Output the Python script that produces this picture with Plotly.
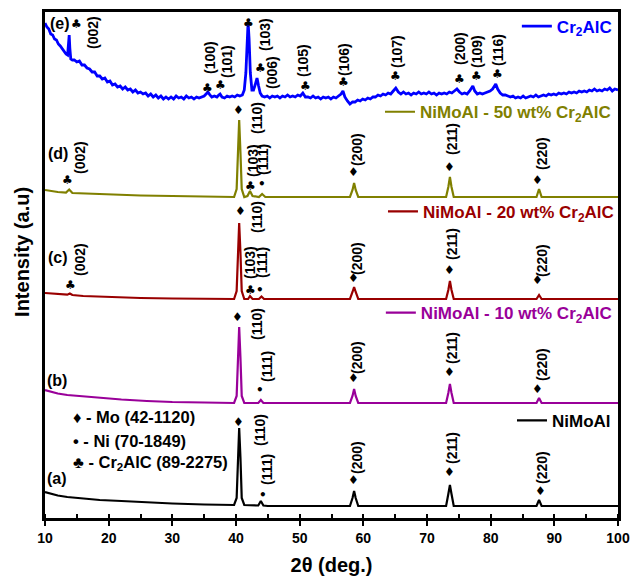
import plotly.graph_objects as go

# ---------------- data (2theta in degrees, stacked intensity in a.u.) ----------------
a_x = [10, 11, 12, 13.5, 16, 18.6, 22, 26, 30, 35, 39.7, 40.1, 40.3, 40.5, 40.7, 40.9, 41.3, 42.5, 43.5, 43.9, 44.3, 45,
       50, 57.9, 58.3, 58.55, 58.8, 59.2, 65, 73.0, 73.35, 73.6, 73.85, 74.2, 80, 87.2, 87.6, 88.0, 95, 100]
a_y = [26, 24, 22.5, 21, 19.5, 18, 17, 15.5, 14.5, 13.5, 13, 20, 60, 90, 60, 20, 13, 12.5, 12.5, 17, 12.5, 12,
       12, 12, 20, 27, 20, 12, 12, 12, 24, 33, 24, 12, 12, 12, 18, 12, 12, 12]

b_x = [10, 11, 12, 13.5, 16, 18.6, 22, 26, 30, 35, 39.7, 40.1, 40.3, 40.5, 40.7, 40.9, 41.3, 43.5, 43.9, 44.3,
       50, 57.9, 58.3, 58.55, 58.8, 59.2, 65, 73.0, 73.35, 73.6, 73.85, 74.2, 80, 87.2, 87.6, 88.0, 100]
b_y = [128, 126, 124.5, 123, 121.5, 120, 118.5, 117, 116, 115.5, 115, 122, 160, 191, 160, 122, 115, 115, 118, 115,
       115, 115, 122, 129, 122, 115, 115, 115, 125, 134, 125, 115, 115, 115, 120, 115, 115]

c_x = [10, 11, 12, 13.5, 13.9, 14.3, 16, 20, 25, 30, 35, 39.7, 40.1, 40.3, 40.5, 40.7, 40.9, 41.3, 41.9, 42.2, 42.6,
       43.6, 44.0, 44.4, 50, 57.9, 58.3, 58.55, 58.8, 59.2, 65, 73.0, 73.35, 73.6, 73.85, 74.2, 80, 87.2, 87.6, 88.0, 100]
c_y = [225, 224.5, 224, 223.3, 224.5, 223, 222, 221, 220, 219.5, 219, 219, 227, 265, 295, 265, 227, 219, 219, 222, 219,
       219, 221.5, 219, 219, 219, 226, 231, 226, 219, 219, 219, 228, 237, 228, 219, 219, 219, 223, 219, 219]

d_x = [10, 11, 12, 13.3, 13.8, 14.3, 16, 20, 25, 30, 35, 39.7, 40.1, 40.3, 40.5, 40.7, 40.9, 41.3, 41.8, 42.2, 42.6,
       43.6, 44.1, 44.6, 50, 57.9, 58.3, 58.55, 58.8, 59.2, 65, 73.0, 73.35, 73.6, 73.85, 74.2, 80, 87.2, 87.6, 88.0, 100]
d_y = [328, 327, 326, 325.5, 328.5, 325, 324.5, 323.5, 322.5, 322, 321.5, 321, 329, 365, 398, 365, 329, 321, 322, 327, 322,
       321, 324, 321, 321, 321, 328, 335, 328, 321, 321, 321, 331, 341, 331, 321, 321, 321, 329, 321, 321]

e_x = [10.0, 10.3, 10.6, 10.9, 11.2, 11.5, 11.8, 12.1, 12.4, 12.7, 13.0, 13.3, 13.55, 13.7, 13.8, 13.9, 14.05, 14.3, 14.6,
       15.0, 15.4, 15.8, 16.2, 16.6, 17.0, 17.4, 17.8, 18.2, 18.6, 19.0, 19.4, 19.8, 20.2, 20.6, 21.0, 21.4, 21.8, 22.2,
       22.6, 23.0, 23.4, 23.8, 24.2, 24.6, 25.0, 25.4, 25.8, 26.2, 26.6, 27.0, 27.4, 27.8, 28.2, 28.6, 29.0, 29.4, 29.8,
       30.2, 30.6, 31.0, 31.4, 31.8, 32.2, 32.6, 33.0, 33.4, 33.8, 34.2, 34.6, 35.0, 35.3, 35.6, 35.9, 36.2, 36.6, 37.0,
       37.3, 37.5, 37.8, 38.2, 38.6, 39.0, 39.4, 39.8, 40.2, 40.6, 41.0, 41.3, 41.55, 41.75, 41.9, 42.05, 42.25, 42.5,
       42.75, 43.0, 43.3, 43.55, 43.8, 44.1, 44.5, 44.9, 45.3, 45.7, 46.1, 46.5, 46.9, 47.3, 47.7, 48.1, 48.5, 48.9, 49.3,
       49.7, 50.1, 50.5, 50.9, 51.3, 51.7, 52.1, 52.5, 52.9, 53.3, 53.7, 54.1, 54.5, 54.9, 55.3, 55.7, 56.1, 56.5, 56.8,
       57.1, 57.5, 57.9, 58.3, 58.7, 59.1, 59.5, 59.9, 60.3, 60.7, 61.1, 61.5, 61.9, 62.3, 62.7, 63.1, 63.5, 63.9, 64.3,
       64.7, 65.1, 65.5, 65.9, 66.3, 66.7, 67.1, 67.5, 67.9, 68.3, 68.7, 69.1, 69.5, 69.9, 70.3, 70.7, 71.1, 71.5, 71.9,
       72.3, 72.7, 73.1, 73.5, 73.9, 74.3, 74.7, 75.1, 75.5, 75.9, 76.3, 76.7, 77.0, 77.2, 77.5, 77.9, 78.3, 78.7, 79.1,
       79.5, 79.9, 80.3, 80.6, 80.8, 81.1, 81.5, 81.9, 82.3, 82.7, 83.1, 83.5, 83.9, 84.3, 84.7, 85.1, 85.5, 85.9, 86.3,
       86.7, 87.1, 87.5, 87.9, 88.3, 88.7, 89.1, 89.5, 89.9, 90.3, 90.7, 91.1, 91.5, 91.9, 92.3, 92.7, 93.1, 93.5, 93.9,
       94.3, 94.7, 95.1, 95.5, 95.9, 96.3, 96.7, 97.1, 97.5, 97.9, 98.3, 98.7, 99.1, 99.5, 100.0]
e_y = [495, 491, 489, 484, 483, 479, 478, 474, 472, 469, 467, 464, 463, 475, 483, 470, 459, 458, 458,
       456, 457, 453, 453, 450, 449, 446, 446, 442, 442, 439, 440, 436, 437, 433, 434, 431, 432, 429,
       431, 428, 429, 426, 428, 425, 426, 424, 425, 422, 424, 421, 423, 420, 422, 419, 421, 419, 421,
       419, 422, 420, 421, 419, 422, 420, 421, 419, 421, 420, 421, 422, 424, 426, 423, 421, 422, 421,
       423, 424, 421, 420, 422, 421, 422, 421, 423, 422, 423, 428, 445, 480, 496, 480, 445, 428,
       428, 433, 440, 432, 425, 422, 421, 422, 420, 422, 421, 422, 420, 422, 421, 423, 421, 422, 421,
       423, 422, 425, 421, 421, 420, 422, 420, 421, 419, 421, 420, 421, 419, 421, 420, 422, 424, 427,
       421, 417, 414, 416, 416, 418, 417, 419, 418, 420, 419, 421, 421, 423, 422, 424, 423, 425, 424,
       427, 430, 426, 424, 426, 424, 425, 423, 425, 424, 426, 424, 425, 424, 426, 424, 425, 423, 425,
       424, 425, 424, 426, 425, 427, 429, 426, 424, 425, 424, 427, 430, 432, 427, 424, 425, 424, 425,
       426, 427, 429, 432, 434, 429, 425, 423, 423, 422, 421, 422, 420, 421, 420, 422, 420, 421, 422,
       421, 423, 421, 422, 423, 422, 424, 423, 424, 423, 425, 424, 425, 424, 426, 425, 426, 425, 427,
       426, 427, 426, 428, 427, 429, 427, 428, 427, 429, 428, 430, 427, 429, 428]

series_names = ["NiMoAl", "NiMoAl - 10 wt% Cr<sub>2</sub>AlC", "NiMoAl - 20 wt% Cr<sub>2</sub>AlC",
                "NiMoAl - 50 wt% Cr<sub>2</sub>AlC", "Cr<sub>2</sub>AlC"]
series_tags = ["(a)", "(b)", "(c)", "(d)", "(e)"]
series_x = [a_x, b_x, c_x, d_x, e_x]
series_y = [a_y, b_y, c_y, d_y, e_y]

# Miller index labels (text, 2theta, intensity)
peak_labels = [
    ("(002)", 17.54, 485), ("(100)", 35.92, 460), ("(101)", 38.59, 456), ("(103)", 44.55, 484),
    ("(006)", 45.65, 446), ("(105)", 50.52, 458), ("(106)", 56.96, 459), ("(107)", 65.29, 466),
    ("(200)", 75.18, 470), ("(109)", 77.85, 467), ("(116)", 81.15, 468),
    ("(002)", 15.50, 360), ("(110)", 43.30, 400), ("(103)", 42.67, 357), ("(111)", 44.24, 359),
    ("(200)", 59.0, 369), ("(211)", 73.93, 379), ("(220)", 88.06, 365),
    ("(002)", 15.50, 258), ("(110)", 43.30, 301), ("(103)", 42.20, 255), ("(111)", 44.08, 256),
    ("(200)", 59.0, 260), ("(211)", 73.93, 274), ("(220)", 88.06, 258),
    ("(110)", 43.30, 194), ("(111)", 44.87, 151), ("(200)", 59.0, 161), ("(211)", 73.93, 170),
    ("(220)", 88.06, 154),
    ("(110)", 43.77, 88), ("(111)", 44.87, 48), ("(200)", 59.0, 61), ("(211)", 73.93, 70),
    ("(220)", 88.06, 51),
]
CLUB, DIAM, DOT = "\u2663", "\u2666", "\u2022"
phase_marks = [
    (CLUB, 14.87, 494), (CLUB, 35.60, 430), (CLUB, 37.64, 433), (CLUB, 42.04, 495), (CLUB, 43.77, 450),
    (CLUB, 50.84, 432), (CLUB, 56.81, 436), (CLUB, 65.13, 442), (CLUB, 75.03, 439), (CLUB, 77.70, 442),
    (CLUB, 81.0, 444),
    (CLUB, 13.61, 338), (DIAM, 40.47, 408), (CLUB, 42.20, 332), (DOT, 44.08, 334), (DIAM, 58.38, 346),
    (DIAM, 73.46, 351), (DIAM, 87.43, 338),
    (CLUB, 13.93, 233), (DIAM, 40.78, 307), (CLUB, 42.20, 228), (DOT, 43.77, 228), (DIAM, 58.38, 240),
    (DIAM, 73.61, 248), (DIAM, 87.28, 238),
    (DIAM, 40.31, 201), (DOT, 43.77, 128), (DIAM, 58.38, 140), (DIAM, 73.46, 146), (DIAM, 87.43, 129),
    (DIAM, 40.47, 96), (DOT, 44.24, 23), (DIAM, 58.38, 38), (DIAM, 73.46, 46), (DIAM, 87.75, 27),
]
phase_key = [DIAM + " - Mo (42-1120)", DOT + " - Ni (70-1849)", CLUB + " - Cr<sub>2</sub>AlC (89-2275)"]

# ---------------- styles / layout ----------------
colors = ["#000000", "#990099", "#990000", "#808000", "#0000ff"]
widths = [2.2, 2.2, 2.2, 2.2, 2.8]
FONT = "Liberation Sans, Arial, sans-serif"
tag_pos = [(11.88, 40), (11.88, 138), (12.04, 261), (12.04, 365), (12.36, 495)]
legend_pos = [(0.9965, 0.192), (0.998, 0.405), (1.0017, 0.605), (0.9965, 0.802), (0.998, 0.971)]
key_pos = [(14.08, 101), (14.08, 77), (14.08, 55)]

fig = go.Figure()
legend_ids = ["legend", "legend2", "legend3", "legend4", "legend5"]
for i in range(5):
    fig.add_trace(go.Scatter(x=series_x[i], y=series_y[i], mode="lines", name=series_names[i],
                             line=dict(color=colors[i], width=widths[i]), legend=legend_ids[i]))

layout_legends = {}
for i, lid in enumerate(legend_ids):
    layout_legends[lid] = dict(x=legend_pos[i][0], y=legend_pos[i][1], xanchor="right", yanchor="middle",
                               bgcolor="rgba(0,0,0,0)", borderwidth=0, itemwidth=30,
                               font=dict(family=FONT, size=17, color=colors[i], weight="bold"))

ann = []
for t, x, y in peak_labels:
    ann.append(dict(x=x, y=y, xref="x", yref="y", text=t, showarrow=False, textangle=-90,
                    font=dict(family=FONT, size=14, color="black", weight="bold")))
for s, x, y in phase_marks:
    ann.append(dict(x=x, y=y, xref="x", yref="y", text=s, showarrow=False,
                    font=dict(family="DejaVu Sans", size=12, color="black", weight="bold")))
for i, (x, y) in enumerate(tag_pos):
    ann.append(dict(x=x, y=y, xref="x", yref="y", text=series_tags[i], showarrow=False,
                    font=dict(family=FONT, size=16, color="black", weight="bold")))
for i, (x, y) in enumerate(key_pos):
    ann.append(dict(x=x, y=y, xref="x", yref="y", text=phase_key[i], showarrow=False, xanchor="left",
                    font=dict(family=FONT, size=16.5, color="black", weight="bold")))
# y-axis title
ann.append(dict(x=-0.040, y=0.526, xref="paper", yref="paper", text="Intensity (a.u)", showarrow=False,
                xanchor="center", yanchor="middle", textangle=-90,
                font=dict(family=FONT, size=20, color="black", weight="bold")))

fig.update_layout(
    width=630, height=577, margin=dict(l=45, r=12, t=12, b=59, autoexpand=False),
    paper_bgcolor="white", plot_bgcolor="white", showlegend=True,
    annotations=ann, **layout_legends,
    xaxis=dict(range=[10, 100], tick0=10, dtick=10, ticks="outside", ticklen=5, tickwidth=2,
               tickcolor="black", showline=True, linewidth=2.5, linecolor="black", mirror=True,
               showgrid=False, zeroline=False,
               minor=dict(dtick=5, ticks="inside", ticklen=4, tickwidth=2, tickcolor="black"),
               tickfont=dict(family=FONT, size=14, color="black", weight="bold"),
               title=dict(text="2\u03b8 (deg.)", standoff=14,
                          font=dict(family=FONT, size=20, color="black", weight="bold"))),
    yaxis=dict(range=[0, 506], showticklabels=False, ticks="", showline=True, linewidth=2.5,
               linecolor="black", mirror=True, showgrid=False, zeroline=False),
)

fig.write_html("out.html")
